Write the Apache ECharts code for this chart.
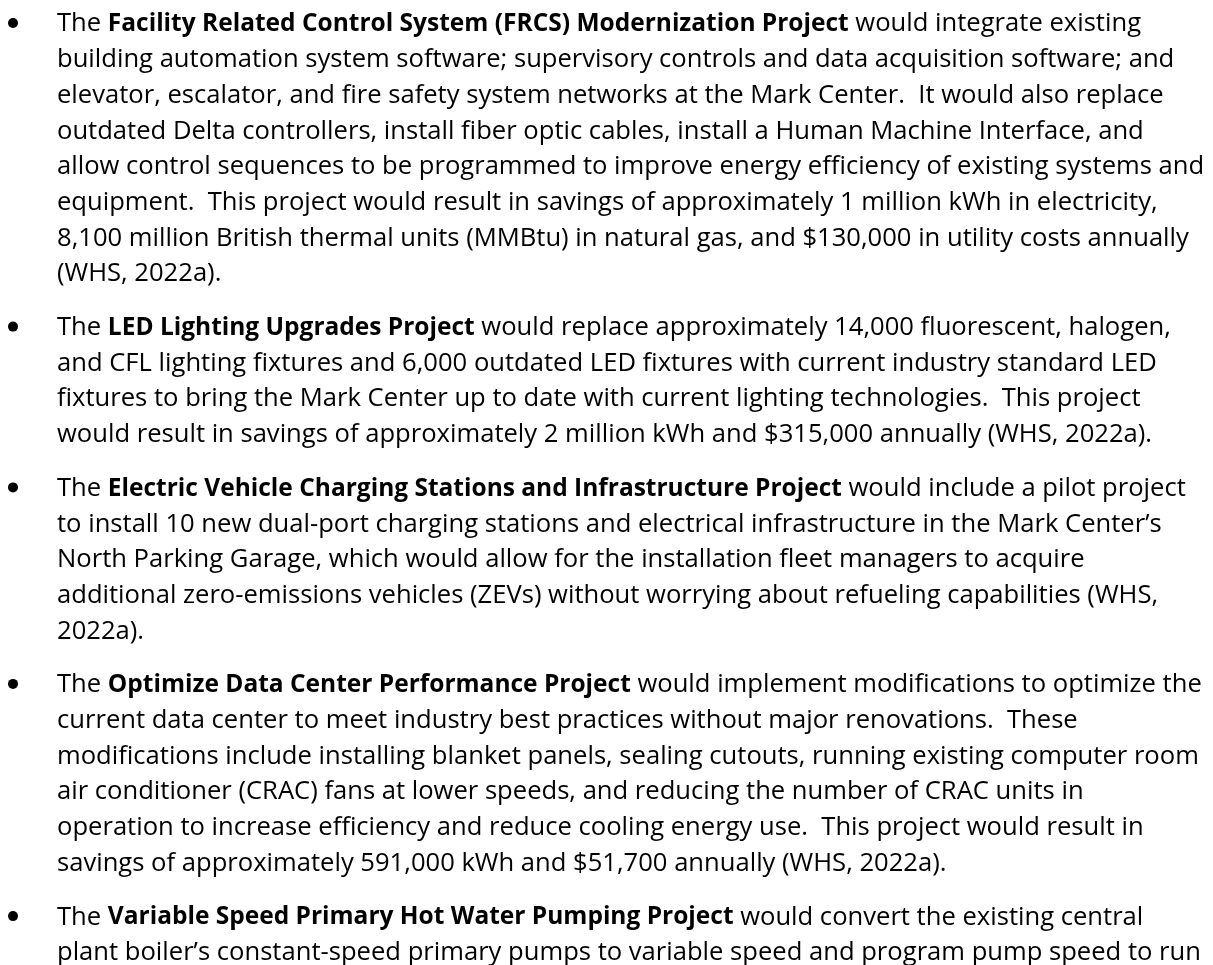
<!DOCTYPE html>
<html>
<head>
<meta charset="utf-8">
<script src="https://cdn.jsdelivr.net/npm/echarts@6/dist/echarts.min.js"></script>
<style>
  html, body { margin: 0; padding: 0; background: #ffffff; }
  #main { width: 1213px; height: 965px; }
</style>
</head>
<body>
<div id="main"></div>
<script>
// bullet paragraphs, one string per printed line, {b|...} marks the bold project name
var frcsLines = [
  'The {b|Facility Related Control System (FRCS) Modernization Project} would integrate existing',
  'building automation system software; supervisory controls and data acquisition software; and',
  'elevator, escalator, and fire safety system networks at the Mark Center.  It would also replace',
  'outdated Delta controllers, install fiber optic cables, install a Human Machine Interface, and',
  'allow control sequences to be programmed to improve energy efficiency of existing systems and',
  'equipment.  This project would result in savings of approximately 1 million kWh in electricity,',
  '8,100 million British thermal units (MMBtu) in natural gas, and $130,000 in utility costs annually',
  '(WHS, 2022a).'
];
var ledLines = [
  'The {b|LED Lighting Upgrades Project} would replace approximately 14,000 fluorescent, halogen,',
  'and CFL lighting fixtures and 6,000 outdated LED fixtures with current industry standard LED',
  'fixtures to bring the Mark Center up to date with current lighting technologies.  This project',
  'would result in savings of approximately 2 million kWh and $315,000 annually (WHS, 2022a).'
];
var evLines = [
  'The {b|Electric Vehicle Charging Stations and Infrastructure Project} would include a pilot project',
  'to install 10 new dual-port charging stations and electrical infrastructure in the Mark Center\u2019s',
  'North Parking Garage, which would allow for the installation fleet managers to acquire',
  'additional zero-emissions vehicles (ZEVs) without worrying about refueling capabilities (WHS,',
  '2022a).'
];
var dataCenterLines = [
  'The {b|Optimize Data Center Performance Project} would implement modifications to optimize the',
  'current data center to meet industry best practices without major renovations.  These',
  'modifications include installing blanket panels, sealing cutouts, running existing computer room',
  'air conditioner (CRAC) fans at lower speeds, and reducing the number of CRAC units in',
  'operation to increase efficiency and reduce cooling energy use.  This project would result in',
  'savings of approximately 591,000 kWh and $51,700 annually (WHS, 2022a).'
];
var pumpLines = [
  'The {b|Variable Speed Primary Hot Water Pumping Project} would convert the existing central',
  'plant boiler\u2019s constant-speed primary pumps to variable speed and program pump speed to run'
];
var paragraphs = [frcsLines, ledLines, evLines, dataCenterLines, pumpLines];

// layout (pixels)
var firstBaseline = 30, lineStep = 35.7, paraGap = 18;
var textLeft = 57, bulletX = 13;
var fontSize = 25.6, boldSize = 24.5;

// one row per line: y in "line units", counting extra paragraph gap
var textRows = [], textStr = [], bulletRows = [];
var n = 0;
paragraphs.forEach(function (lines, p) {
  lines.forEach(function (s, i) {
    var slot = n + p * paraGap / lineStep;
    textRows.push([0, slot]);
    textStr.push(s);
    if (i === 0) bulletRows.push([0, slot]);
    n++;
  });
});

var chart = echarts.init(document.getElementById('main'));
chart.setOption({
  backgroundColor: '#ffffff',
  animation: false,
  grid: { left: 0, right: 0, top: 0, bottom: 0 },
  xAxis: { type: 'value', min: 0, max: 1, show: false },
  yAxis: {
    type: 'value', inverse: true, show: false,
    min: -firstBaseline / lineStep,
    max: (965 - firstBaseline) / lineStep
  },
  series: [{
    type: 'custom',
    data: textRows,
    renderItem: function (params, api) {
      var pt = api.coord([0, api.value(1)]);
      return {
        type: 'text',
        style: {
          x: textLeft,
          y: pt[1] - 5.8,
          text: textStr[params.dataIndex],
          fill: '#000000',
          fontFamily: 'Open Sans',
          fontSize: fontSize,
          verticalAlign: 'middle',
          align: 'left',
          rich: {
            b: { fontWeight: 'bold', fontFamily: 'Open Sans', fontSize: boldSize, fill: '#000000' }
          }
        }
      };
    }
  }, {
    type: 'custom',
    data: bulletRows,
    renderItem: function (params, api) {
      var pt = api.coord([0, api.value(1)]);
      return {
        type: 'circle',
        shape: { cx: bulletX, cy: pt[1] - 7, r: 5 },
        style: { fill: '#000000' }
      };
    }
  }]
});
</script>
</body>
</html>
